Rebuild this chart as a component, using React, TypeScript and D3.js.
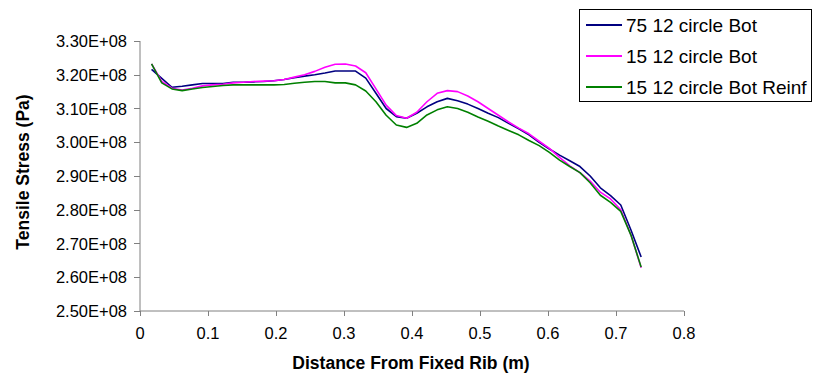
import React from "react";
import * as d3 from "d3";

const xValues = [0.017,0.032,0.047,0.062,0.077,0.092,0.107,0.122,0.137,0.152,0.167,0.182,0.197,0.212,0.227,0.242,0.257,0.272,0.287,0.302,0.317,0.332,0.347,0.362,0.377,0.392,0.407,0.422,0.437,0.452,0.467,0.482,0.497,0.512,0.527,0.542,0.557,0.572,0.587,0.602,0.617,0.632,0.647,0.662,0.677,0.692,0.707,0.722,0.737];

// values in units of 1E+08 Pa
const blue75 = [3.216,3.189,3.163,3.166,3.170,3.174,3.174,3.174,3.178,3.178,3.179,3.180,3.182,3.186,3.191,3.196,3.200,3.205,3.211,3.211,3.211,3.190,3.145,3.100,3.076,3.071,3.086,3.105,3.120,3.130,3.123,3.113,3.100,3.086,3.073,3.056,3.040,3.022,3.000,2.980,2.962,2.945,2.928,2.900,2.865,2.842,2.814,2.740,2.660];
const pink15 = [3.232,3.180,3.160,3.155,3.160,3.167,3.170,3.172,3.176,3.178,3.180,3.181,3.182,3.186,3.193,3.200,3.210,3.222,3.231,3.232,3.226,3.206,3.158,3.110,3.079,3.071,3.089,3.120,3.145,3.153,3.150,3.137,3.120,3.100,3.080,3.060,3.042,3.025,3.003,2.982,2.955,2.930,2.910,2.885,2.852,2.832,2.800,2.725,2.628];
const green15Reinf = [3.232,3.176,3.158,3.153,3.158,3.162,3.165,3.168,3.170,3.170,3.170,3.170,3.170,3.171,3.175,3.178,3.180,3.180,3.176,3.176,3.170,3.152,3.120,3.080,3.051,3.044,3.056,3.081,3.096,3.105,3.100,3.089,3.075,3.062,3.048,3.035,3.022,3.005,2.990,2.970,2.947,2.928,2.910,2.880,2.843,2.822,2.795,2.725,2.630];

const seriesNames = ["75 12 circle Bot", "15 12 circle Bot", "15 12 circle Bot Reinf"];
const seriesColors = ["#000080", "#FF00FF", "#008000"];
const xTicks = [0, 0.1, 0.2, 0.3, 0.4, 0.5, 0.6, 0.7, 0.8];
const yTicks = [2.5, 2.6, 2.7, 2.8, 2.9, 3.0, 3.1, 3.2, 3.3];
const yTickLabels = ["2.50E+08","2.60E+08","2.70E+08","2.80E+08","2.90E+08","3.00E+08","3.10E+08","3.20E+08","3.30E+08"];

export default function App() {
  const W = 814, H = 384;
  const x = d3.scaleLinear().domain([0, 0.8]).range([140, 684]);
  const y = d3.scaleLinear().domain([2.5, 3.3]).range([311, 41]);
  const series = [blue75, pink15, green15Reinf];
  const line = d3.line<number>().x((_, i) => x(xValues[i])).y(d => y(d));
  const font = "Arial, 'Liberation Sans', sans-serif";
  const axisColor = "#808080";
  return (
    <svg width={W} height={H} style={{ position: "absolute", left: 0, top: 0, background: "#fff" }} fontFamily={font}>
      <rect x={0} y={0} width={W} height={H} fill="#fff" />
      <line x1={140} x2={140} y1={y(3.3)} y2={y(2.5)} stroke={axisColor} strokeWidth={1} />
      <line x1={140} x2={684} y1={y(2.5)} y2={y(2.5)} stroke={axisColor} strokeWidth={1} />
      {yTicks.map((t, i) => (
        <g key={"y" + i}>
          <line x1={134} x2={140} y1={Math.round(y(t)) + 0.5} y2={Math.round(y(t)) + 0.5} stroke={axisColor} />
          <text x={127} y={y(t) + 6} textAnchor="end" fontSize={16.5} fill="#000">{yTickLabels[i]}</text>
        </g>
      ))}
      {xTicks.map((t, i) => (
        <g key={"x" + i}>
          <line x1={Math.round(x(t)) + 0.5} x2={Math.round(x(t)) + 0.5} y1={y(2.5)} y2={y(2.5) + 5} stroke={axisColor} />
          <text x={x(t)} y={339} textAnchor="middle" fontSize={16.5} fill="#000">{String(t)}</text>
        </g>
      ))}
      {series.map((s, i) => (
        <path key={"s" + i} d={line(s) || ""} fill="none" stroke={seriesColors[i]} strokeWidth={1.6} strokeLinejoin="round" />
      ))}
      <text x={411} y={369} textAnchor="middle" fontSize={17.5} fontWeight="bold">Distance From Fixed Rib (m)</text>
      <text transform={`translate(29,172) rotate(-90)`} textAnchor="middle" fontSize={17.5} fontWeight="bold">Tensile Stress (Pa)</text>
      <rect x={579.5} y={9.5} width={232} height={92} fill="#fff" stroke="#000" strokeWidth={1} />
      {seriesNames.map((n, i) => (
        <g key={"l" + i}>
          <line x1={586} x2={622} y1={25 + i * 31} y2={25 + i * 31} stroke={seriesColors[i]} strokeWidth={2} />
          <text x={626} y={25 + i * 31 + 6.5} fontSize={19} fill="#000">{n}</text>
        </g>
      ))}
    </svg>
  );
}
